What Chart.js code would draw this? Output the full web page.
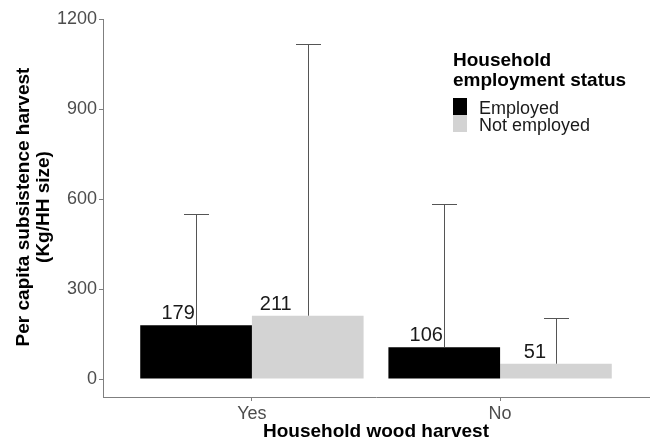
<!DOCTYPE html>
<html>
<head>
<meta charset="utf-8">
<script src="https://cdn.jsdelivr.net/npm/chart.js@4"></script>
<style>
  body { margin: 0; background: #fff; }
</style>
</head>
<body>
<canvas id="chart" width="650" height="439"></canvas>
<script>
const categories = ['Yes', 'No'];
const seriesNames = ['Employed', 'Not employed'];
const employed = [179, 106];
const notEmployed = [211, 51];
// upper end of the error bars
const employedUpper = [549, 582];
const notEmployedUpper = [1117, 202];
const yTicks = [0, 300, 600, 900, 1200];

const FONT = "'Liberation Sans', Arial, sans-serif";
const AXIS = '#7f7f7f';

function toPoints(values) {
  return values.map((v, i) => ({ x: i + 1, y: v }));
}

const extras = {
  id: 'extras',
  afterDatasetsDraw(chart) {
    const ctx = chart.ctx;
    const y = chart.scales.y;
    const uppers = [employedUpper, notEmployedUpper];
    const nudge = [[-18, -18], [-32, -21]];
    ctx.save();
    chart.data.datasets.forEach((ds, i) => {
      const meta = chart.getDatasetMeta(i);
      meta.data.forEach((bar, j) => {
        const x = Math.round(bar.x) + 0.5;
        const yUp = Math.round(y.getPixelForValue(uppers[i][j])) + 0.5;
        ctx.strokeStyle = '#555';
        ctx.lineWidth = 1;
        ctx.beginPath();
        ctx.moveTo(x, bar.y);
        ctx.lineTo(x, yUp);
        ctx.moveTo(x - 12.5, yUp);
        ctx.lineTo(x + 12.5, yUp);
        ctx.stroke();
        ctx.fillStyle = '#1a1a1a';
        ctx.font = '20px ' + FONT;
        ctx.textAlign = 'center';
        ctx.textBaseline = 'alphabetic';
        ctx.fillText(ds.data[j].y, bar.x + nudge[i][j], bar.y - 6);
      });
    });
    ctx.restore();
  },
  afterDraw(chart) {
    const ctx = chart.ctx;
    const area = chart.chartArea;
    ctx.save();
    ctx.fillStyle = '#000';
    // x title
    ctx.font = 'bold 19px ' + FONT;
    ctx.textAlign = 'center';
    ctx.textBaseline = 'alphabetic';
    ctx.fillText('Household wood harvest', (area.left + area.right) / 2, 437);
    // y title
    ctx.save();
    ctx.translate(29, 207);
    ctx.rotate(-Math.PI / 2);
    ctx.fillText('Per capita subsistence harvest', 0, 0);
    ctx.fillText('(Kg/HH size)', 0, 20);
    ctx.restore();
    // legend
    ctx.textAlign = 'left';
    ctx.fillText('Household', 453, 66);
    ctx.fillText('employment status', 453, 86);
    ctx.font = '18px ' + FONT;
    chart.data.datasets.forEach((ds, i) => {
      const top = 98 + i * 17;
      ctx.fillStyle = ds.backgroundColor;
      ctx.fillRect(453, top, 14, 17);
      ctx.fillStyle = '#1a1a1a';
      ctx.fillText(ds.label, 479, top + 16);
    });
    ctx.restore();
  }
};

new Chart(document.getElementById('chart'), {
  type: 'bar',
  data: {
    datasets: [
      { label: seriesNames[0], data: toPoints(employed), backgroundColor: '#000000' },
      { label: seriesNames[1], data: toPoints(notEmployed), backgroundColor: '#d3d3d3' }
    ]
  },
  options: {
    responsive: false,
    animation: false,
    layout: { padding: { left: 0, right: 1, top: 19, bottom: 0 } },
    datasets: { bar: { categoryPercentage: 0.9, barPercentage: 1, borderWidth: 0 } },
    plugins: { legend: { display: false }, tooltip: { enabled: false } },
    scales: {
      x: {
        type: 'linear',
        min: 0.4,
        max: 2.6,
        offset: false,
        afterBuildTicks: s => { s.ticks = categories.map((c, i) => ({ value: i + 1 })); },
        afterFit: s => { s.height = 42; },
        ticks: {
          callback: v => categories[v - 1],
          color: '#4d4d4d',
          font: { family: FONT, size: 18 },
          padding: 2,
          maxRotation: 0
        },
        grid: { offset: false, drawOnChartArea: false, tickLength: 4, color: AXIS },
        border: { color: AXIS }
      },
      y: {
        min: -60,
        max: 1200,
        afterBuildTicks: s => { s.ticks = yTicks.map(v => ({ value: v })); },
        afterFit: s => { s.width = 103; },
        ticks: {
          callback: v => String(v),
          color: '#4d4d4d',
          font: { family: FONT, size: 18 },
          padding: 2
        },
        grid: { drawOnChartArea: false, tickLength: 4, color: AXIS },
        border: { color: AXIS }
      }
    }
  },
  plugins: [extras]
});
</script>
</body>
</html>
